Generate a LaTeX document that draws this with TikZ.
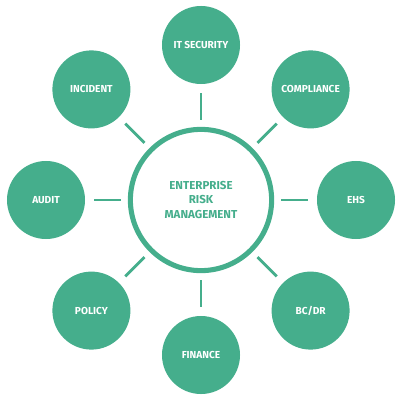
\documentclass[tikz,border=0pt]{standalone}
\usepackage{fontspec}
\setmainfont{Fira Sans}
\usepackage{tikz}
\definecolor{riskgreen}{HTML}{45AE8C}

\begin{document}
\begin{tikzpicture}[
  x=0.025cm,y=-0.025cm,
  hub/.style={circle,draw=riskgreen,line width=3.6pt,fill=white,minimum size=3.53cm,inner sep=0pt,
    align=center,font=\fontsize{8.2}{10.2}\selectfont\bfseries\color{riskgreen}},
  sat/.style={circle,fill=riskgreen,draw=none,minimum size=1.95cm,inner sep=0pt,
    font=\fontsize{7.2}{8}\selectfont\bfseries\color{white}},
  lnk/.style={draw=riskgreen,line width=2pt,shorten <=0.18cm,shorten >=0.22cm},
]
\useasboundingbox (0,0) rectangle (400,400);

\node[hub] (erm) at (201,200) {ENTERPRISE\\RISK\\MANAGEMENT};

\node[sat] (itsec) at (201,45) {IT SECURITY};
\node[sat] (compl) at (310.6,89.4) {COMPLIANCE};
\node[sat] (ehs) at (356,200) {EHS};
\node[sat] (bcdr) at (310.6,310.6) {BC/DR};
\node[sat] (fin) at (201,355) {FINANCE};
\node[sat] (pol) at (91.4,310.6) {POLICY};
\node[sat] (aud) at (46,200) {AUDIT};
\node[sat] (inc) at (91.4,89.4) {INCIDENT};

\foreach \s in {itsec,compl,ehs,bcdr,fin,pol,aud,inc}
  \draw[lnk] (erm) -- (\s);
\end{tikzpicture}
\end{document}
